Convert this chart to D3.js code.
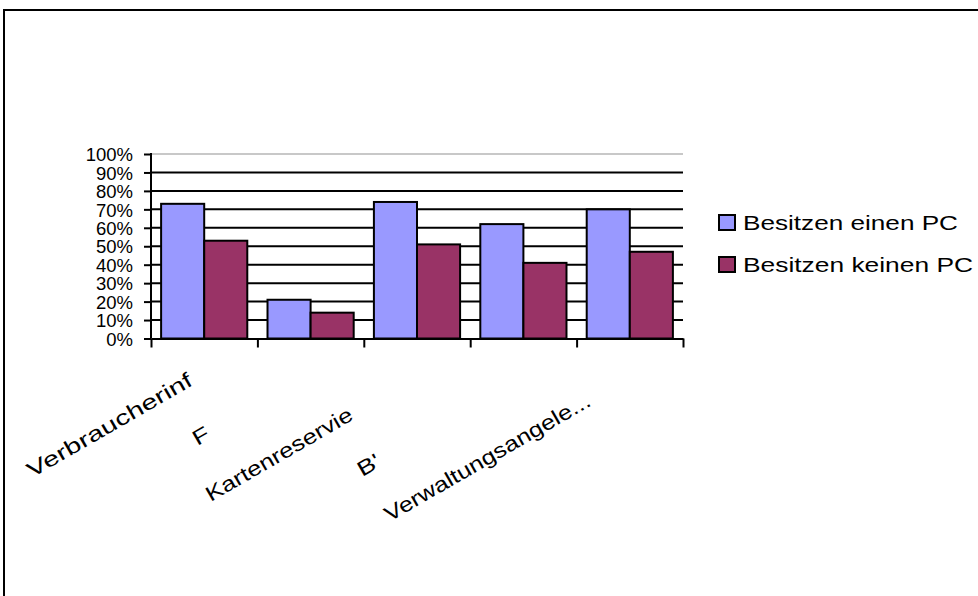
<!DOCTYPE html>
<html>
<head>
<meta charset="utf-8">
<script src="https://cdn.jsdelivr.net/npm/d3@7"></script>
<style>
    body { margin: 0; background: white; }
    svg { display: block; font-family: Arial, "Liberation Sans", sans-serif; }
</style>
</head>
<body>
<svg id="chart"></svg>
<script>
// categories as they appear on the axis (the picture cuts some of them off)
const categories = ["Verbraucherinf", "F", "Kartenreservie", "B'", "Verwaltungsangele..."];
const seriesNames = ["Besitzen einen PC", "Besitzen keinen PC"];
const withPc = [0.73, 0.21, 0.74, 0.62, 0.70];
const withoutPc = [0.53, 0.14, 0.51, 0.41, 0.47];
const yTicks = [0, 0.1, 0.2, 0.3, 0.4, 0.5, 0.6, 0.7, 0.8, 0.9, 1];

const colors = ["#9999ff", "#993366"];

// where each (staggered) label starts, relative to the left edge of its category,
// and how long it is drawn (the original stretches them)
const labelShift = [[-119, 139.5], [-60, 107.5], [-153, 163.5], [-108, 138.5], [-187, 183.5]];
const labelLength = [187, 16, 166, 23, 234];

let width = 978;
let height = 596;
let plotLeft = 151, plotRight = 683, plotTop = 154, plotBottom = 338.5;

let svg = d3.select("#chart")
    .attr("width", width)
    .attr("height", height);

// outer frame, runs off the right and bottom edge
svg.append("rect")
    .attr("x", 4).attr("y", 10)
    .attr("width", 1100).attr("height", 700)
    .attr("fill", "white")
    .attr("stroke", "black")
    .attr("stroke-width", 2);

let y = d3.scaleLinear().domain([0, 1]).range([plotBottom, plotTop]);

let x = d3.scaleBand()
    .domain(categories)
    .range([plotLeft, plotRight])
    .paddingInner(0.19)
    .paddingOuter(0.095);

let xSub = d3.scaleBand()
    .domain(seriesNames)
    .range([0, x.bandwidth()]);

// boundaries between categories, used for the x tick marks
let xEdge = d3.scaleLinear().domain([0, categories.length]).range([plotLeft, plotRight]);

// grid lines
svg.append("g")
    .selectAll("line")
    .data(yTicks.filter(d => d > 0))
    .enter().append("line")
    .attr("x1", plotLeft).attr("x2", plotRight)
    .attr("y1", d => y(d)).attr("y2", d => y(d))
    .attr("stroke", d => d === 1 ? "#c8c8c8" : "black")
    .attr("stroke-width", 2);

// bars
let data = categories.map((c, i) => ({cat: c, values: [withPc[i], withoutPc[i]]}));

let groups = svg.append("g")
    .selectAll("g")
    .data(data)
    .enter().append("g")
    .attr("transform", d => "translate(" + x(d.cat) + ",0)");

groups.selectAll("rect")
    .data(d => d.values.map((v, j) => ({name: seriesNames[j], v: v, j: j})))
    .enter().append("rect")
    .attr("x", d => xSub(d.name))
    .attr("width", xSub.bandwidth())
    .attr("y", d => y(d.v))
    .attr("height", d => y(0) - y(d.v))
    .attr("fill", d => colors[d.j])
    .attr("stroke", "black")
    .attr("stroke-width", 2);

// y axis
let yAxis = svg.append("g")
    .attr("transform", "translate(" + plotLeft + ",0)")
    .call(d3.axisLeft(y)
        .tickValues(yTicks)
        .tickFormat(d3.format(".0%"))
        .tickSize(7)
        .tickPadding(11));
yAxis.selectAll("path, line").attr("stroke", "black").attr("stroke-width", 2);
yAxis.select(".domain").attr("d", "M0," + (plotTop - 1) + "V" + plotBottom);
yAxis.selectAll("text")
    .style("font-size", "18.5px")
    .style("font-family", "Arial, 'Liberation Sans', sans-serif")
    .attr("fill", "black")
    .attr("dy", "0.36em");

// x axis
let xAxis = svg.append("g")
    .attr("transform", "translate(0," + plotBottom + ")")
    .call(d3.axisBottom(xEdge)
        .tickValues(d3.range(categories.length + 1))
        .tickFormat("")
        .tickSize(9)
        .tickSizeOuter(0));
xAxis.selectAll("path, line").attr("stroke", "black").attr("stroke-width", 2);

// slanted category labels
svg.append("g")
    .selectAll("text")
    .data(categories)
    .enter().append("text")
    .attr("transform", (d, i) => "translate(" + (xEdge(i) + labelShift[i][0]) + "," + (plotBottom + labelShift[i][1]) + ") rotate(-30)")
    .attr("textLength", (d, i) => labelLength[i])
    .attr("lengthAdjust", "spacingAndGlyphs")
    .style("font-size", "21px")
    .attr("fill", "black")
    .text(d => d);

// legend
let legend = svg.append("g")
    .selectAll("g")
    .data(seriesNames)
    .enter().append("g")
    .attr("transform", (d, i) => "translate(719," + (215 + i * 42) + ")");

legend.append("rect")
    .attr("width", 16).attr("height", 15)
    .attr("fill", (d, i) => colors[i])
    .attr("stroke", "black")
    .attr("stroke-width", 2);

legend.append("text")
    .attr("x", 24)
    .attr("y", 14.5)
    .attr("textLength", (d, i) => i === 0 ? 215 : 230)
    .attr("lengthAdjust", "spacingAndGlyphs")
    .style("font-size", "21px")
    .attr("fill", "black")
    .text(d => d);
</script>
</body>
</html>
